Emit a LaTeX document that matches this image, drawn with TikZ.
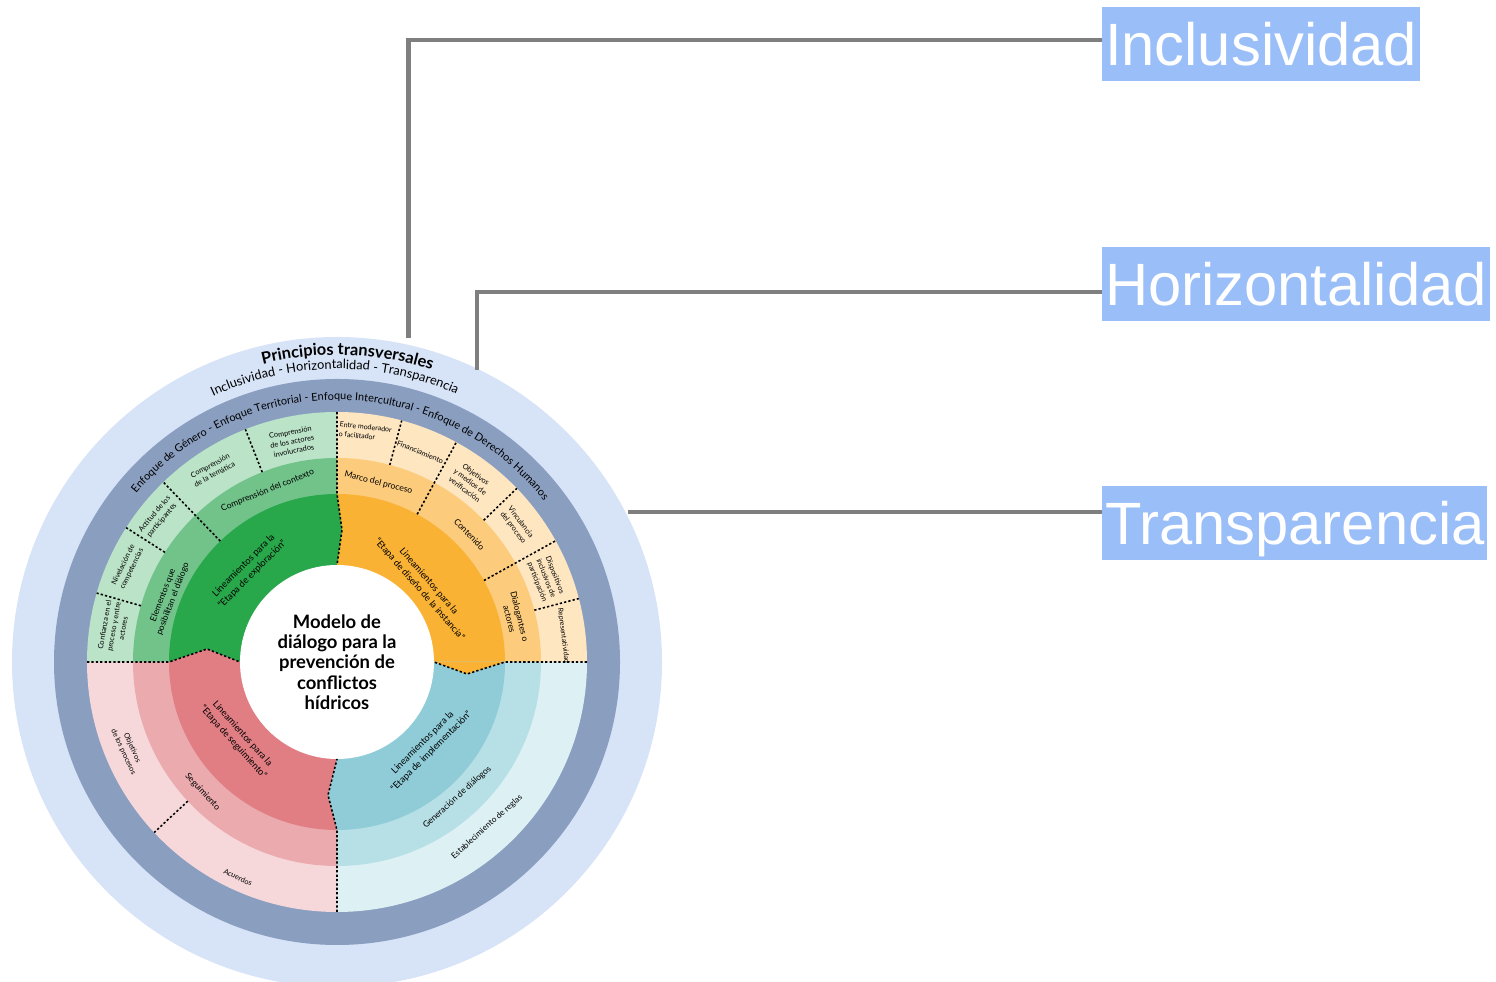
\documentclass[tikz,border=0pt]{standalone}
\usepackage{fontspec}
\setmainfont{Lato}
\newfontfamily\boxfont{Liberation Sans}
\usetikzlibrary{positioning, calc, decorations.text}

\definecolor{haloblue}{HTML}{D7E3F7}
\definecolor{ringslate}{HTML}{8A9EC0}
\definecolor{boxblue}{HTML}{9ABEF8}
\definecolor{linkgray}{HTML}{7F7F7F}
\definecolor{grnA}{HTML}{28A74B}
\definecolor{grnB}{HTML}{71C38A}
\definecolor{grnC}{HTML}{BAE3C7}
\definecolor{orgA}{HTML}{F9B234}
\definecolor{orgB}{HTML}{FCCB7C}
\definecolor{orgC}{HTML}{FEE6C1}
\definecolor{redA}{HTML}{E07E84}
\definecolor{redB}{HTML}{EAAAAE}
\definecolor{redC}{HTML}{F6D8DA}
\definecolor{tealA}{HTML}{8FCCD8}
\definecolor{tealB}{HTML}{B7E0E6}
\definecolor{tealC}{HTML}{DDF0F4}

% colour, start angle, end angle, radius
\newcommand{\ringslice}[4]{\fill[fill=#1] (0,0) -- (#2:#4) arc[start angle=#2, end angle=#3, radius=#4] -- cycle;}

\tikzset{
cut/.style={black, line width=0.9pt, dash pattern=on 1.3pt off 1.2pt}, % dotted dividers
outertxt/.style={font=\fontsize{4.2}{5.4}\selectfont, align=center, inner sep=0pt}, % outer band
midtxt/.style={font=\fontsize{4.9}{6}\selectfont, align=center, inner sep=0pt}, % middle band
coretxt/.style={font=\fontsize{5.3}{7}\selectfont, align=center, inner sep=0pt}, % stage band
labelbox/.style={fill=boxblue, text=white, anchor=west, font=\boxfont\fontsize{34}{40}\selectfont,
  minimum height=1.48cm, inner xsep=1.5pt, text height=24.4pt, text depth=0pt}, % principle boxes
link/.style={linkgray, line width=2.8pt}, % grey leader lines
}

\begin{document}
\begin{tikzpicture}[x=0.02cm, y=0.02cm]
\useasboundingbox (0,0) rectangle (1496,982);

\begin{scope}[shift={(337,320)}]
  % rings
  \fill[haloblue] (0,0) circle[radius=325];
  \fill[ringslate] (0,0) circle[radius=283];
  \foreach \s/\e/\ca/\cb/\cc in {90/180/grnA/grnB/grnC, 0/90/orgA/orgB/orgC,
      180/270/redA/redB/redC, 270/360/tealA/tealB/tealC}{
    \ringslice{\cc}{\s}{\e}{250}
    \ringslice{\cb}{\s}{\e}{204}
    \ringslice{\ca}{\s}{\e}{168}
  }
  % notches between the stages
  \fill[grnA] (0,168) -- (5,132) -- (0,97) -- cycle;
  \fill[orgA] (168,0) -- (130,-12) -- (97,0) -- cycle;
  \fill[tealA] (0,-168) -- (-9,-133) -- (0,-97) -- cycle;
  \fill[redA] (-168,0) -- (-130,13) -- (-97,0) -- cycle;
  \fill[white] (0,0) circle[radius=97];

  % dividers
  \draw[cut] (0,250) -- (0,168) -- (5,132) -- (0,97);
  \draw[cut] (250,0) -- (168,0) -- (130,-12) -- (97,0);
  \draw[cut] (0,-250) -- (0,-168) -- (-9,-133) -- (0,-97);
  \draw[cut] (-250,0) -- (-168,0) -- (-130,13) -- (-97,0);
  \foreach \a/\r in {111.5/204, 134/168, 147.5/204, 164/204,
      75/204, 61.5/168, 44/204, 29/168, 14.7/204, 223/204}
    \draw[cut] (\a:\r) -- (\a:250);

  % texts on the rings
  \path[decorate, decoration={text along path, text align=center,
      text={|\fontsize{9.3}{11}\selectfont\bfseries|Principios transversales}}]
    (140:307) arc[start angle=140, end angle=36, radius=307];
  \path[decorate, decoration={text along path, text align=center,
      text={|\fontsize{7.3}{8}\selectfont|Inclusividad - Horizontalidad - Transparencia}}]
    (150:293) arc[start angle=150, end angle=31, radius=293];
  \path[decorate, decoration={text along path, text align=center,
      text={|\fontsize{6.2}{7}\selectfont|Enfoque de Género - Enfoque Territorial - Enfoque Intercultural - Enfoque de Derechos Humanos}}]
    (155:262) arc[start angle=155, end angle=23, radius=262];

  % exploration
  \node[outertxt, rotate=11] (gact) at (101.5:225) {Comprensión\\de los actores\\involucrados};
  \node[outertxt, rotate=28] (gtem) at (123:229) {Comprensión\\de la temática};
  \node[outertxt, rotate=50] (gpar) at (141:230) {Actitud de los\\participantes};
  \node[outertxt, rotate=64] (gniv) at (155.6:230) {Nivelación de\\competencias};
  \node[outertxt, rotate=80] (gconf) at (171:226) {Confianza en el\\proceso y entre\\actores};
  \node[midtxt, rotate=22] (gctx) at (112:185) {Comprensión del contexto};
  \node[midtxt, rotate=69] (gele) at (159:181) {Elementos que\\posibilitan el diálogo};
  \node[coretxt, rotate=45] (gstage) at (134:128) {Lineamientos para la\\“Etapa de exploración”};

  % design
  \node[outertxt, rotate=-6, align=left, font=\fontsize{4}{5.4}\selectfont] (oent) at (83:232) {Entre moderador\\o facilitador};
  \node[outertxt, rotate=-22] (ofin) at (68.4:226) {Financiamiento};
  \node[outertxt, rotate=-37] (oobj) at (53.5:224) {Objetivos\\y medios de\\verificación};
  \node[outertxt, rotate=-53] (ovin) at (37.3:226) {Vinculancia\\del proceso};
  \node[outertxt, rotate=-68.5] (odis) at (21.8:225) {Dispositivos\\inclusivos de\\participación};
  \node[outertxt, rotate=-83, font=\fontsize{4}{5}\selectfont] (orep) at (6.6:228) {Representatividad};
  \node[midtxt, rotate=-14] (omar) at (77:184) {Marco del proceso};
  \node[midtxt, rotate=-46] (ocon) at (44:184) {Contenido};
  \node[midtxt, rotate=-76] (odia) at (14:183) {Dialogantes o\\actores};
  \node[coretxt, rotate=-49] (ostage) at (41.4:116) {Lineamientos para la\\“Etapa de diseño de la instancia”};

  % follow-up
  \node[outertxt, rotate=-65] (robj) at (202.8:227) {Objetivos\\de los procesos};
  \node[outertxt, rotate=-25] (racu) at (245.3:237) {Acuerdos};
  \node[midtxt, rotate=-47] (rseg) at (224:187) {Seguimiento};
  \node[coretxt, rotate=-48] (rstage) at (217.5:125) {Lineamientos para la\\“Etapa de seguimiento”};

  % implementation
  \node[coretxt, rotate=45] (tstage) at (-43.4:124) {Lineamientos para la\\“Etapa de implementación”};
  \node[midtxt, rotate=42] (tgen) at (-48.4:181) {Generación de diálogos};
  \node[outertxt, rotate=42, font=\fontsize{4.7}{5.5}\selectfont] (test) at (-47.7:223) {Establecimiento de reglas};

  \node[font=\fontsize{10.5}{11.6}\selectfont\bfseries, align=center] (core) at (0,0)
    {Modelo de\\diálogo para la\\prevención de\\conflictos\\hídricos};

  \coordinate (p1) at (77.5:332);
  \coordinate (p2) at (64.4:324);
  \coordinate (p3) at (27.3:327);
\end{scope}

% principles
\node[labelbox] (incl) at (1102,938) {Inclusividad};
\node[labelbox] (horiz) at (1102,697.5) {Horizontalidad};
\node[labelbox] (trans) at (1102,458.5) {Transparencia};

\draw[link] (p1) |- ([yshift=0.08cm]incl.west);
\draw[link] (p2) |- ([yshift=-0.15cm]horiz.west);
\draw[link] (p3) -- (p3 -| trans.west);
\end{tikzpicture}
\end{document}
